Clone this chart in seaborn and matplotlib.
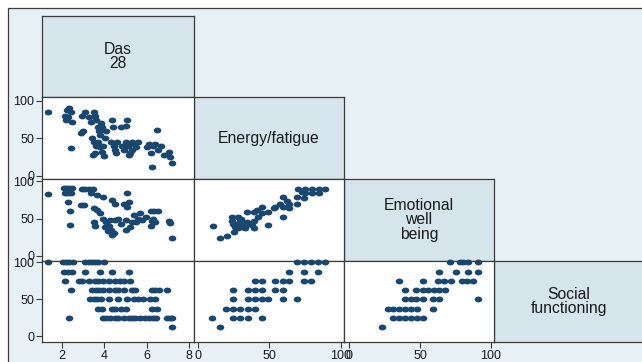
import numpy as np
import pandas as pd
import matplotlib
matplotlib.use("Agg")
import matplotlib.pyplot as plt
from matplotlib.patches import Rectangle
from matplotlib.path import Path
import seaborn as sns

# === Data (one pair of arrays per panel) ===
labels = ["Das\n28", "Energy/fatigue", "Emotional\nwell\nbeing", "Social\nfunctioning"]

das_energy_x = [1.35, 2.15, 2.2, 2.25, 2.35, 2.4, 2.3, 2.45, 2.4, 2.9, 3.0, 2.95, 3.1, 3.25, 3.35,
                3.5, 3.55, 3.6, 3.4, 3.5, 3.6, 3.55, 3.45, 3.7, 3.75, 3.8, 3.85, 3.9, 3.7, 3.8, 3.9,
                4.0, 3.95, 4.05, 4.1, 4.35, 4.4, 4.3, 4.45, 4.5, 4.55, 4.6, 4.8, 5.0, 5.05, 4.85,
                4.95, 5.0, 5.1, 5.2, 5.3, 5.4, 5.5, 5.6, 5.15, 5.3, 6.0, 6.1, 6.2, 6.3, 6.4, 6.5,
                6.55, 6.7, 6.8, 6.27, 7.05, 7.1, 7.2]
das_energy_y = [85, 80, 75, 88, 90, 85, 78, 72, 37, 57, 60, 80, 85, 78, 72,
                85, 80, 75, 50, 45, 40, 30, 28, 65, 60, 55, 70, 65, 45, 38, 32,
                27, 40, 50, 60, 75, 65, 45, 40, 35, 30, 45, 65, 66, 75, 40,
                35, 45, 40, 30, 45, 42, 38, 45, 28, 35, 38, 42, 30, 40, 42, 61,
                35, 40, 28, 12, 32, 25, 17]

das_emot_x = [1.35, 2.1, 2.2, 2.35, 2.45, 2.15, 2.3, 2.4, 2.3, 2.38, 2.38, 2.95, 3.1, 3.25, 3.45,
              3.35, 3.65, 3.95, 2.9, 3.05, 3.5, 3.65, 3.8, 3.5, 3.55, 3.95, 4.1, 4.2, 4.3, 4.05,
              4.15, 4.45, 4.37, 4.25, 4.37, 4.52, 5.08, 5.16, 4.95, 5.05, 4.5, 4.65, 5.0, 5.0,
              5.2, 4.8, 5.3, 5.4, 5.6, 5.8, 5.95, 5.7, 5.5, 6.2, 6.35, 6.55, 6.3, 6.4, 6.2,
              6.25, 7.05, 7.1, 7.2]
das_emot_y = [83, 91, 91, 91, 91, 84, 84, 84, 72, 60, 41, 90, 90, 90, 90,
              84, 81, 79, 68, 68, 64, 61, 57, 45, 40, 50, 45, 40, 35, 38,
              33, 30, 28, 48, 75, 70, 84, 72, 70, 66, 48, 50, 48, 35,
              38, 42, 45, 55, 50, 48, 52, 57, 45, 60, 60, 60, 50, 45, 40,
              46, 46, 44, 24]

das_social_x = [1.35, 2.06, 2.2, 2.35, 2.5, 3.1, 3.25, 3.4, 3.55, 3.7, 4.0,
                2.1, 2.3, 2.45, 3.1, 3.8, 4.35, 5.15,
                2.15, 2.8, 2.95, 3.25, 3.55, 3.7, 3.95, 4.2, 4.5, 4.75, 4.95, 5.2,
                2.4, 3.4, 3.6, 3.75, 3.95, 4.2, 4.5, 4.65, 4.95, 5.3, 5.45, 6.25, 6.4, 6.6, 6.95,
                3.3, 3.5, 3.65, 3.85, 4.2, 4.65, 5.05, 5.4, 5.6, 5.85, 6.15, 6.4,
                3.7, 3.9, 4.35, 4.5, 4.8, 5.0, 6.25, 6.5,
                2.35, 3.95, 4.1, 4.25, 4.5, 4.65, 4.95, 5.15, 5.3, 5.45, 5.7, 5.9, 6.1, 6.3, 6.45,
                6.95, 7.1, 7.2,
                7.2]
das_social_y = [100] * 11 + [87.5] * 7 + [75] * 12 + [62.5] * 15 + [50] * 12 + [37.5] * 8 \
    + [25] * 18 + [12.5]

energy_emot_x = [10, 15, 20, 25, 23.5, 28, 30, 24.6, 28, 34, 39, 28, 33, 39,
                 34, 39, 44.5, 44.5, 49, 49, 54, 57.4, 59.7, 59.7, 64, 64, 59.7,
                 69, 69, 70.3, 75, 79.7, 84.4, 89, 75, 79.7, 84.4, 74,
                 24, 29, 33, 38, 42, 26, 31, 36, 41, 53, 62, 73]
energy_emot_y = [40, 24, 27, 32, 52, 52, 50, 43, 43, 45, 47, 37, 37, 37,
                 59, 59, 66, 57, 59, 41, 66, 70, 79, 66, 70, 64, 52,
                 70, 79, 90, 90, 90, 90, 90, 84, 84, 84, 77,
                 47, 47, 41, 41, 52, 39, 39, 43, 62, 64, 73, 86]

energy_social_x = [69, 74, 79, 84, 89,
                   64, 74, 84,
                   40, 44.5, 54, 59.7, 64, 74, 79,
                   24.6, 35, 40, 44.5, 54, 59.7,
                   24.6, 35, 40, 44.5, 49, 59.7, 69,
                   19.5, 24.6, 29.3, 35, 40,
                   9.4, 24.6, 29.3, 35, 44.5,
                   15]
energy_social_y = [100] * 5 + [87.5] * 3 + [75] * 7 + [62.5] * 6 + [50] * 7 + [37.5] * 5 \
    + [25] * 5 + [12.5]

emot_social_x = [71.2, 78.3, 80.7, 84.2, 91.3,
                 63.4, 75.4, 83.7, 91.3,
                 35.4, 51.9, 63, 67, 71.7, 79.5, 83.5, 87.7,
                 39.4, 47.2, 51.9, 55.9, 59.9, 63.7, 67.7,
                 39.4, 43.4, 47.2, 51.9, 59.4, 63.7, 91.3,
                 27.6, 31.1, 35.4, 39.4, 43.4, 47.6, 59.4,
                 31.1, 35.4, 39.4, 43.4, 47.6, 51.9,
                 23.4]
emot_social_y = [100] * 5 + [87.5] * 4 + [75] * 8 + [62.5] * 7 + [50] * 7 + [37.5] * 7 \
    + [25] * 6 + [12.5]

# === Setup ===
sns.set_style("white")
plt.rcParams["font.family"] = ["Liberation Sans", "DejaVu Sans"]

W, H = 642, 362
fig = plt.figure(figsize=(W / 100, H / 100), dpi=100)
fig.patch.set_facecolor("white")

# outer light-blue plot region, on a background axes behind everything
bg = fig.add_axes([0, 0, 1, 1], zorder=-10)
bg.set_axis_off()
bg.set_xlim(0, W)
bg.set_ylim(H, 0)
bg.add_patch(Rectangle((8, 8), W + 20, H + 20, facecolor="#e7f0f4",
                       edgecolor="#3c3c3c", linewidth=0.9))

col_edges = [42, 194, 344, 494, 644]
row_edges = [16, 97, 179, 261, 342]
xlims = [(1.05, 8.24), (-3, 102.3), (-3.7, 102.3)]
ylims = [None, (-4, 105.3), (-6.7, 102.7), (-7.7, 101.8)]
xticks = [[2, 4, 6, 8], [0, 50, 100], [0, 50, 100]]

panels = {
    (1, 0): (das_energy_x, das_energy_y),
    (2, 0): (das_emot_x, das_emot_y),
    (3, 0): (das_social_x, das_social_y),
    (2, 1): (energy_emot_x, energy_emot_y),
    (3, 1): (energy_social_x, energy_social_y),
    (3, 2): (emot_social_x, emot_social_y),
}

# slightly wide dot, like the stretched original
t = np.linspace(0, 2 * np.pi, 40)
dot = Path(np.column_stack([1.3 * np.cos(t), np.sin(t)]), closed=True)
navy = "#1a476f"
edge = "#3c3c3c"


def make_ax(r, c):
    x0, x1 = col_edges[c], col_edges[c + 1]
    y0, y1 = row_edges[r], row_edges[r + 1]
    ax = fig.add_axes([x0 / W, 1 - y1 / H, (x1 - x0) / W, (y1 - y0) / H])
    for s in ax.spines.values():
        s.set_color(edge)
        s.set_linewidth(0.9)
        s.set_visible(True)
    return ax


# diagonal label cells
for i, lab in enumerate(labels):
    ax = make_ax(i, i)
    ax.set_facecolor("#d6e5ec")
    ax.set_xticks([])
    ax.set_yticks([])
    ax.text(0.5, 0.5, lab, ha="center", va="center", fontsize=11.3, color="#1a1a1a",
            linespacing=0.95, transform=ax.transAxes)

# scatter cells
for (r, c), (xs, ys) in panels.items():
    ax = make_ax(r, c)
    ax.set_facecolor("white")
    df = pd.DataFrame({"x": xs, "y": ys})
    sns.scatterplot(data=df, x="x", y="y", ax=ax, color=navy, marker=dot, s=30,
                    linewidth=0, legend=False, clip_on=False)
    ax.set_xlim(*xlims[c])
    ax.set_ylim(*ylims[r])
    ax.set_xlabel("")
    ax.set_ylabel("")
    ax.tick_params(axis="both", which="both", length=4, width=0.8, color=edge,
                   labelsize=9, labelcolor="#1a1a1a", pad=1.5, direction="out")
    if c == 0:
        ax.set_yticks([0, 50, 100])
        ax.tick_params(axis="y", left=True, labelleft=True)
    else:
        ax.set_yticks([])
    if r == 3:
        ax.set_xticks(xticks[c])
        ax.tick_params(axis="x", bottom=True, labelbottom=True)
    else:
        ax.set_xticks([])

fig.savefig("out.png", dpi=100)
plt.close(fig)
